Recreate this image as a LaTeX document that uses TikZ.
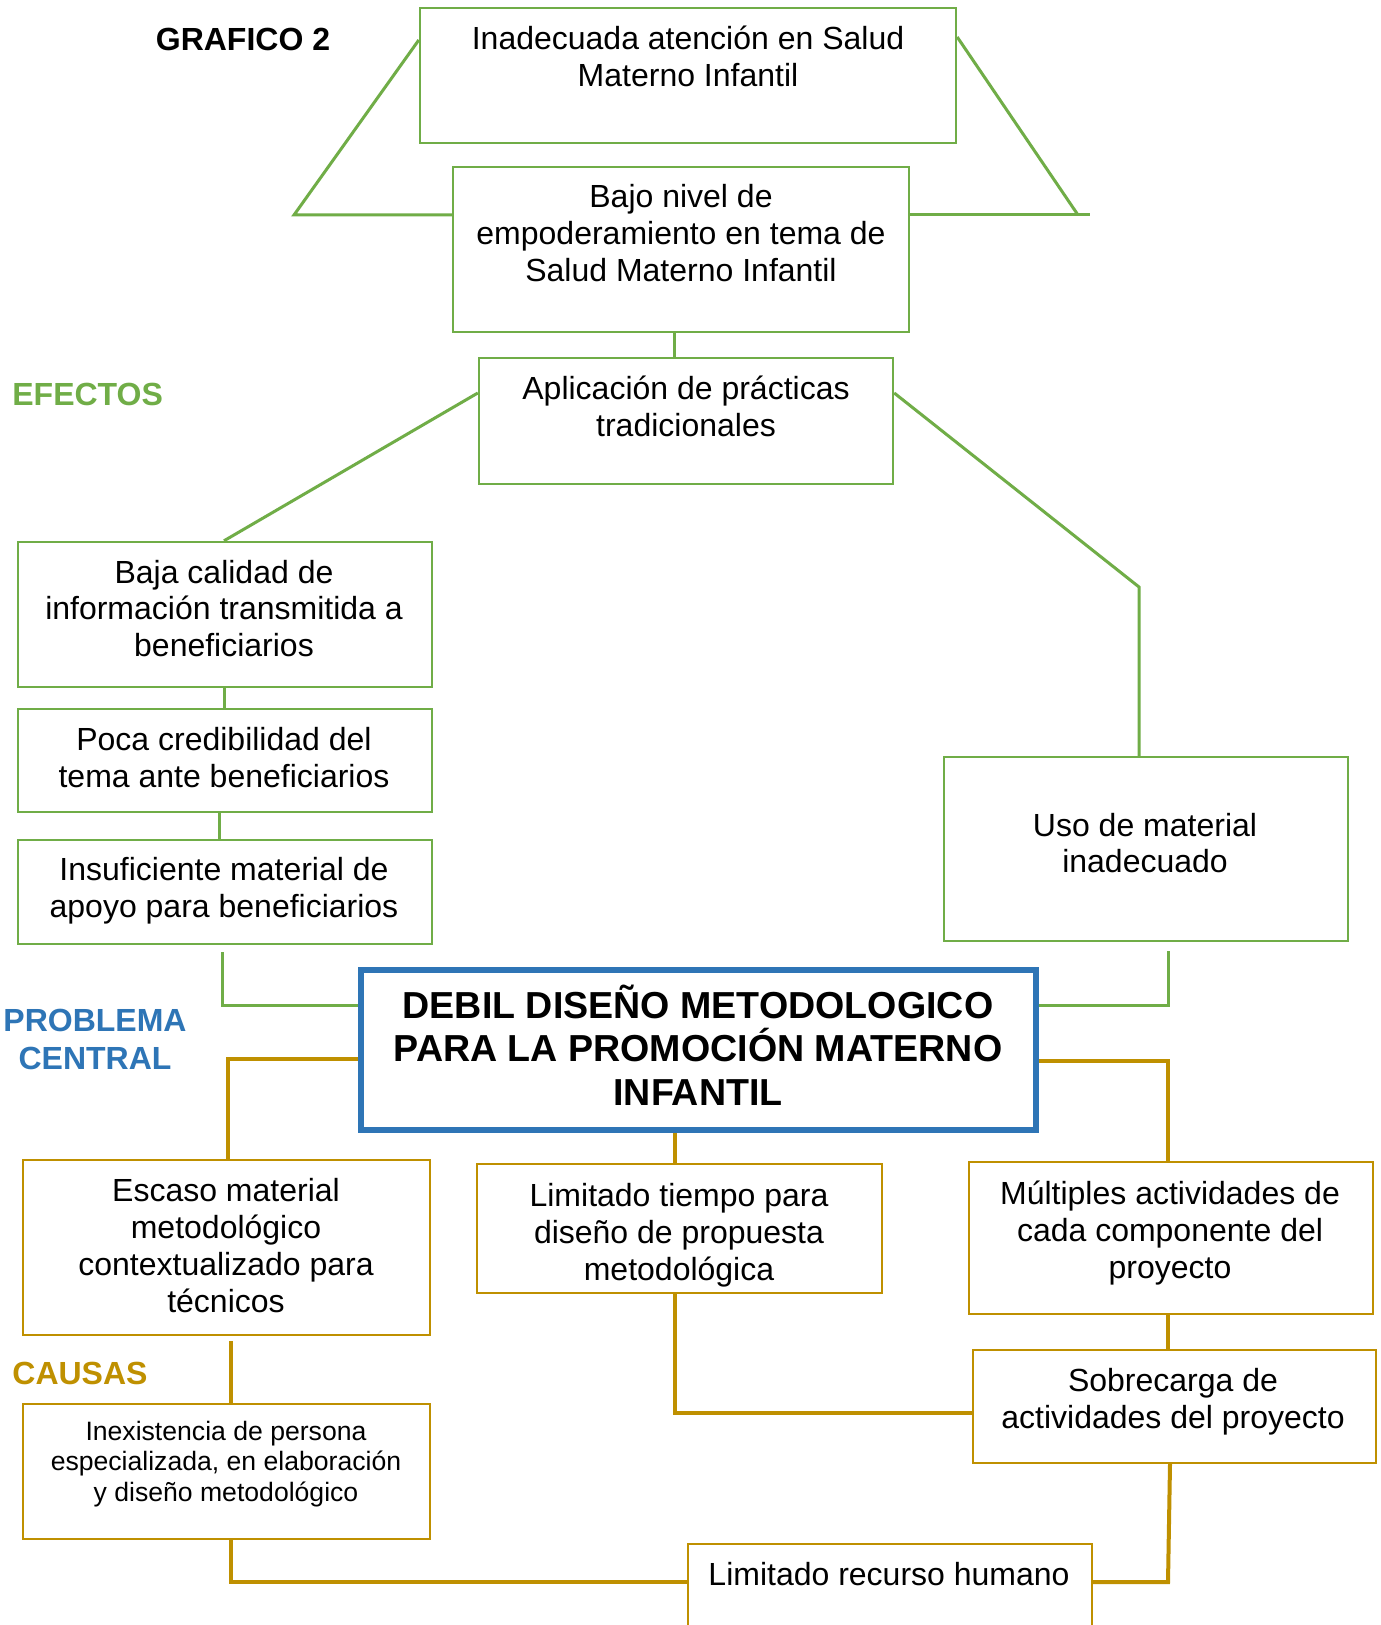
\documentclass[tikz,border=0pt]{standalone}
\usepackage{fontspec}
\setmainfont{Liberation Sans}
\usetikzlibrary{fit}
\definecolor{efgreen}{HTML}{70AD47}
\definecolor{cagold}{HTML}{BF9000}
\definecolor{pcblue}{HTML}{2E75B6}
\begin{document}
\begin{tikzpicture}[x=0.5pt,y=-0.5pt,
  frame/.style={draw, inner sep=0pt, line width=1.2pt},
  effect/.style={frame, draw=efgreen},
  cause/.style={frame, draw=cagold},
  core/.style={draw=pcblue, line width=3.2pt, inner sep=0pt},
  txt/.style={align=center, inner sep=0pt, font=\fontsize{16}{18.4}\selectfont},
  small/.style={align=center, inner sep=0pt, font=\fontsize{13.3}{15.3}\selectfont},
  head/.style={align=center, inner sep=0pt, font=\fontsize{18.8}{21.7}\selectfont\bfseries},
  tag/.style={inner sep=0pt, align=center, font=\fontsize{16}{19}\selectfont\bfseries},
  glink/.style={draw=efgreen, line width=1.5pt},
  olink/.style={draw=cagold, line width=2pt},
]
\clip (0,0) rectangle (1380,1625);
\fill[white] (0,0) rectangle (1380,1625);

% side labels
\node[tag] (title) at (243,39) {GRAFICO 2};
\node[tag, text=efgreen, anchor=west] (eflabel) at (12,394) {EFECTOS};
\node[tag, text=pcblue] (pclabel) at (95,1039) {PROBLEMA\\CENTRAL};
\node[tag, text=cagold, anchor=west] (calabel) at (12,1373) {CAUSAS};

% effects
\node[effect, fit={(420,8) (956,143)}] (e1) {};
\node[txt] (e1t) at (688,56) {Inadecuada atención en Salud\\Materno Infantil};
\node[effect, fit={(453,167) (909,332)}] (e2) {};
\node[txt] (e2t) at (681,233) {Bajo nivel de\\empoderamiento en tema de\\Salud Materno Infantil};
\node[effect, fit={(479,358) (893,484)}] (e3) {};
\node[txt] (e3t) at (686,406) {Aplicación de prácticas\\tradicionales};
\node[effect, fit={(18,542) (432,687)}] (c1) {};
\node[txt] (c1t) at (224,608.5) {Baja calidad de\\información transmitida a\\beneficiarios};
\node[effect, fit={(18,709) (432,812)}] (c2) {};
\node[txt] (c2t) at (224,757.5) {Poca credibilidad del\\tema ante beneficiarios};
\node[effect, fit={(18,840) (432,944)}] (c3) {};
\node[txt] (c3t) at (224,891) {Insuficiente material de\\apoyo para beneficiarios};
\node[effect, fit={(944,757) (1348,941)}] (uso) {};
\node[txt] (usot) at (1145,843) {Uso de material\\inadecuado};

% central problem
\node[core, fit={(361,970) (1036,1130)}] (core) {};
\node[head] (coret) at (698,1045) {DEBIL DISEÑO METODOLOGICO\\PARA LA PROMOCIÓN MATERNO\\INFANTIL};

% causes
\node[cause, fit={(23,1160) (430,1335)}] (k1) {};
\node[txt] (k1t) at (226,1245.5) {Escaso material\\metodológico\\contextualizado para\\técnicos};
\node[cause, fit={(477,1164) (882,1293)}] (k2) {};
\node[txt] (k2t) at (679,1235) {Limitado tiempo para\\diseño de propuesta\\metodológica};
\node[cause, fit={(969,1162) (1373,1314)}] (k3) {};
\node[txt] (k3t) at (1170,1233) {Múltiples actividades de\\cada componente del\\proyecto};
\node[cause, fit={(973,1350) (1376,1463)}] (k4) {};
\node[txt] (k4t) at (1173,1402) {Sobrecarga de\\actividades del proyecto};
\node[cause, fit={(23,1404) (430,1539)}] (k5) {};
\node[small] (k5t) at (226,1464) {Inexistencia de persona\\especializada, en elaboración\\y diseño metodológico};
\node[cause, fit={(688,1544) (1092,1680)}] (k6) {};
\node[txt] (k6t) at (889,1574) {Limitado recurso humano};

% effect connectors
\draw[glink] (e1.west |- 0,40) -- (294,215) -- (e2.west |- 0,215);
\draw[glink] (e1.east |- 0,37) -- (1078,215);
\draw[glink] (e2.east |- 0,215) -- (1090,215);
\draw[glink] (e2.south -| 674,0) -- (e3.north -| 674,0);
\draw[glink] (e3.west |- 0,393) -- (c1.north -| 224,0);
\draw[glink] (e3.east |- 0,393) -- (1139,587) -- (uso.north -| 1139,0);
\draw[glink] (c1.south -| 224,0) -- (c2.north -| 224,0);
\draw[glink] (c2.south -| 219,0) -- (c3.north -| 219,0);
\draw[glink] (c3.south -| 222,0) ++(0,7) -- (222,1005) -- (core.west |- 0,1005);
\draw[glink] (uso.south -| 1168,0) ++(0,9) -- (1168,1005) -- (core.east |- 0,1005);

% cause connectors
\draw[olink] (core.west |- 0,1059) -- (228,1059) -- (k1.north -| 228,0);
\draw[olink] (core.east |- 0,1061) -- (1168,1061) -- (k3.north -| 1168,0);
\draw[olink] (core.south -| 675,0) -- (k2.north -| 675,0);
\draw[olink] (k3.south -| 1168,0) -- (k4.north -| 1168,0);
\draw[olink] (k1.south -| 231,0) ++(0,5) -- (k5.north -| 231,0);
\draw[olink] (k2.south -| 675,0) -- (675,1413) -- (k4.west |- 0,1413);
\draw[olink] (k5.south -| 231,0) -- (231,1582) -- (k6.west |- 0,1582);
\draw[olink] (k4.south -| 1170,0) -- (1168,1582) -- (k6.east |- 0,1582);
\end{tikzpicture}
\end{document}
